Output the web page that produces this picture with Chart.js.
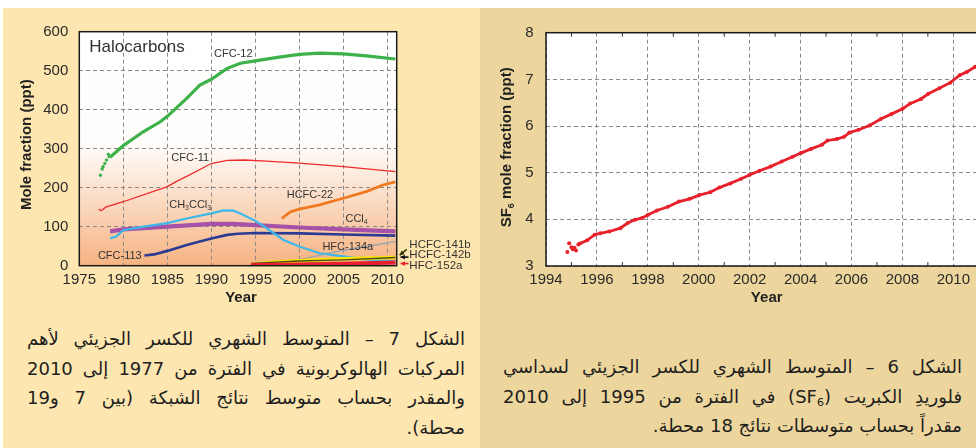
<!DOCTYPE html>
<html><head><meta charset="utf-8">
<script src="https://cdn.jsdelivr.net/npm/chart.js@4/dist/chart.umd.min.js"></script>
<style>
html,body{margin:0;padding:0;width:976px;height:448px;overflow:hidden;background:#fff;position:relative;}
#lp{position:absolute;left:3px;top:8px;width:477px;height:440px;background:#FDE6B0;}
#rp{position:absolute;left:480px;top:8px;width:496px;height:440px;background:#EDD69D;}
#c1{position:absolute;left:0;top:0;}
#c2{position:absolute;left:480px;top:0;}
.cap{position:absolute;direction:rtl;font-family:"DejaVu Sans",sans-serif;font-size:18px;line-height:29.5px;color:#1e1e1e;}
.cap div{text-align:justify;text-align-last:justify;height:29.5px;overflow:visible;white-space:nowrap;}
.cap div.last{text-align:right;text-align-last:right;}
.cap sub{font-size:11px;line-height:0;vertical-align:-3px;}
</style></head>
<body>
<div id="lp"></div><div id="rp"></div>
<canvas id="c1" width="480" height="310"></canvas>
<canvas id="c2" width="540" height="310"></canvas>
<div class="cap" style="left:27px;top:324px;width:438px;">
<div>الشكل 7 – المتوسط الشهري للكسر الجزيئي لأهم</div>
<div>المركبات الهالوكربونية في الفترة من 1977 إلى 2010</div>
<div>والمقدر بحساب متوسط نتائج الشبكة (بين 7 و19</div>
<div class="last">محطة).</div>
</div>
<div class="cap" style="left:503px;top:352px;width:459px;">
<div>الشكل 6 – المتوسط الشهري للكسر الجزيئي لسداسي</div>
<div>فلوريدِ الكبريت (SF<sub>6</sub>) في الفترة من 1995 إلى 2010</div>
<div class="last">مقدراً بحساب متوسطات نتائج 18 محطة.</div>
</div>
<script>
// ---------------- Halocarbons (left) ----------------
const hcXTicks = [1975,1980,1985,1990,1995,2000,2005,2010];
const hcYTicks = [0,100,200,300,400,500,600];

const cfc12EarlyYears  = [1977.4,1977.6,1977.7,1977.9,1978.1,1978.3,1978.4];
const cfc12EarlyValues = [232,248,254,262,271,286,280];
const cfc12Years  = [1978.5,1980,1982.3,1984.2,1985,1987.2,1988.7,1990,1991.8,1993.3,1995,1997.5,2000,2002.3,2005,2007.6,2010.9];
const cfc12Values = [278,308,344,369,383,429,463,478,506,519,525,534,542,545,543,538,530];

const cfc11Years  = [1977.2,1977.5,1978,1980,1985,1986.1,1987.2,1990,1991.8,1993.8,1996.2,2000,2005,2010.9];
const cfc11Values = [145,141,150,164,203,217,229,262,270,271,268,263,254,241];

const hcfc22Years  = [1998,1998.5,1999,2000,2002.3,2005,2007.6,2009.5,2010.9];
const hcfc22Values = [121,130,138,145,156,173,190,207,215];

const ccl4Years  = [1978.5,1980,1985,1990,1992.5,1995,2000,2005,2010.9];
const ccl4Values = [88,93,100,107,107,104,98,93,88];

const ch3ccl3Years  = [1978.5,1979.2,1980,1982.3,1985,1987.2,1990,1991.4,1992.5,1993.3,1995,1996.3,1998.2,2000,2002.3,2005,2007.6,2010.9];
const ch3ccl3Values = [70,75,91,100,109,121,134,142,141,134,115,96,66,49,32,24,16,11];

const cfc113Years  = [1982.4,1983.5,1985,1987.2,1990,1991.8,1993,1995,2000,2005,2010.9];
const cfc113Values = [26,29,38,53,70,79,82,84,83,80,77];

const hfc134aYears  = [1994.5,1997,2000,2002.3,2005,2007.6,2010.9];
const hfc134aValues = [1,6,15,27,40,49,62];

const hcfc141bYears  = [1994.5,1997,2000,2005,2010.9];
const hcfc141bValues = [3,9,13,18,21];

const hcfc142bYears  = [1994.5,2000,2005,2010.9];
const hcfc142bValues = [6,12,15,21];

const hfc152aYears  = [1994.5,2000,2005,2010.9];
const hfc152aValues = [1.5,3,5,8];

// ---------------- SF6 (right) ----------------
const sf6XTicks = [1994,1996,1998,2000,2002,2004,2006,2008,2010];
const sf6YTicks = [3,4,5,6,7,8];
const sf6EarlyYears  = [1994.84,1994.91,1995.0,1995.05,1995.12,1995.18,1995.27];
const sf6EarlyValues = [3.30,3.49,3.40,3.36,3.39,3.33,3.46];
const sf6Years  = [1995.33,1995.62,1995.91,1996.13,1996.49,1996.92,1997.21,1997.49,1997.78,1998.01,1998.36,1998.79,1999.22,1999.65,2000.02,2000.45,2000.81,2001.24,2001.67,2001.99,2002.39,2002.82,2003.26,2003.69,2004.01,2004.41,2004.84,2005.06,2005.42,2005.71,2005.92,2006.28,2006.71,2007.15,2007.58,2008.01,2008.30,2008.73,2009.02,2009.45,2009.88,2010.25,2010.53,2010.86];
const sf6Values = [3.48,3.55,3.67,3.70,3.74,3.81,3.92,3.99,4.03,4.10,4.19,4.27,4.38,4.44,4.52,4.58,4.68,4.77,4.87,4.95,5.04,5.13,5.24,5.34,5.42,5.51,5.60,5.69,5.72,5.77,5.86,5.92,6.01,6.15,6.26,6.37,6.48,6.58,6.69,6.81,6.93,7.09,7.16,7.27];

// ---------------- helpers ----------------
const FAM = '"Liberation Sans", Arial, sans-serif';
const pts = (xs, ys) => xs.map((x, i) => ({x, y: ys[i]}));
function drawRich(ctx, text, x, y, size, weight, align, color) {
  const parts = []; let cur = '';
  for (let i = 0; i < text.length; i++) {
    if (text[i] === '_') { if (cur) parts.push([cur, 0]); cur = ''; parts.push([text[i+1], 1]); i++; }
    else cur += text[i];
  }
  if (cur) parts.push([cur, 0]);
  const f0 = `${weight} ${size}px ${FAM}`, f1 = `${weight} ${Math.round(size*0.62)}px ${FAM}`;
  let w = 0;
  parts.forEach(p => { ctx.font = p[1] ? f1 : f0; p.w = ctx.measureText(p[0]).width; w += p.w; });
  let sx = align === 'center' ? x - w/2 : align === 'right' ? x - w : x;
  ctx.fillStyle = color; ctx.textBaseline = 'middle'; ctx.textAlign = 'left';
  parts.forEach(p => { ctx.font = p[1] ? f1 : f0; ctx.fillText(p[0], sx, p[1] ? y + size*0.32 : y); sx += p.w; });
}
function arrow(ctx, x1, y1, x2, y2, color) {
  ctx.save(); ctx.strokeStyle = color; ctx.fillStyle = color; ctx.lineWidth = 1.6;
  ctx.beginPath(); ctx.moveTo(x1, y1); ctx.lineTo(x2, y2); ctx.stroke();
  const a = Math.atan2(y2 - y1, x2 - x1), L = 5;
  ctx.beginPath(); ctx.moveTo(x2, y2);
  ctx.lineTo(x2 - L*Math.cos(a - 0.5), y2 - L*Math.sin(a - 0.5));
  ctx.lineTo(x2 - L*Math.cos(a + 0.5), y2 - L*Math.sin(a + 0.5));
  ctx.closePath(); ctx.fill(); ctx.restore();
}
const tickFont = {family: FAM, size: 15};
const gridCol = '#8a8a8a';

// ---------------- left chart ----------------
const hcLabels = [
  {t:'CFC-12',  x:1992.5, y:543},
  {t:'CFC-11',  x:1987.6, y:276},
  {t:'HCFC-22', x:2001.2, y:181},
  {t:'CCl_4',   x:2006.5, y:120},
  {t:'CH_3CCl_3', x:1987.6, y:156},
  {t:'HFC-134a', x:2005.5, y:48},
  {t:'CFC-113', x:1979.6, y:25}
];
const hcSideLabels = [
  {t:'HCFC-141b', x:2012.5, y:53},
  {t:'HCFC-142b', x:2012.5, y:27},
  {t:'HFC-152a',  x:2012.5, y:0}
];
const hcArrows = [
  {from:[2012.2,42], to:[2011.4,27], c:'#333300'},
  {from:[2012.4,22], to:[2011.5,22], c:'#111'},
  {from:[2012.4,5.5], to:[2011.5,5.5], c:'#E8202A'}
];

const hcPlugin = {
  id: 'hc',
  beforeDraw(chart) {
    const {ctx, chartArea: a, scales: {y}} = chart;
    const g = ctx.createLinearGradient(0, a.top, 0, a.bottom);
    const p300 = (y.getPixelForValue(310) - a.top) / (a.bottom - a.top);
    g.addColorStop(0, '#ffffff'); g.addColorStop(p300, '#fffdfb'); g.addColorStop(1, '#F6B381');
    ctx.save(); ctx.fillStyle = g; ctx.fillRect(a.left, a.top, a.right - a.left, a.bottom - a.top); ctx.restore();
  },
  afterDraw(chart) {
    const {ctx, chartArea: a, scales: {x, y}} = chart;
    ctx.save();
    ctx.strokeStyle = '#1a1a1a'; ctx.lineWidth = 1.5;
    ctx.strokeRect(a.left, a.top, a.right - a.left, a.bottom - a.top);
    drawRich(ctx, 'Halocarbons', a.left + 10, a.top + 16, 17, 'normal', 'left', '#333');
    hcLabels.forEach(l => drawRich(ctx, l.t, x.getPixelForValue(l.x), y.getPixelForValue(l.y), 11, 'normal', 'center', '#333'));
    hcSideLabels.forEach(l => drawRich(ctx, l.t, x.getPixelForValue(l.x), y.getPixelForValue(l.y), 11.5, 'normal', 'left', '#333'));
    hcArrows.forEach(r => arrow(ctx, x.getPixelForValue(r.from[0]), y.getPixelForValue(r.from[1]), x.getPixelForValue(r.to[0]), y.getPixelForValue(r.to[1]), r.c));
    drawRich(ctx, 'Year', (a.left + a.right)/2 + 3, 298, 15, 'bold', 'center', '#222');
    ctx.translate(a.left - 52, (a.top + a.bottom)/2 - 4); ctx.rotate(-Math.PI/2);
    drawRich(ctx, 'Mole fraction (ppt)', 0, 0, 15, 'bold', 'center', '#222');
    ctx.restore();
  }
};

const line = (label, xs, ys, color, w) => ({label, data: pts(xs, ys), showLine: true, borderColor: color, backgroundColor: color, borderWidth: w, pointRadius: 0, fill: false, tension: 0});

new Chart(document.getElementById('c1'), {
  type: 'scatter',
  data: {datasets: [
    line('HFC-152a', hfc152aYears, hfc152aValues, '#E8202A', 4),
    line('HCFC-142b', hcfc142bYears, hcfc142bValues, '#4a4a1a', 1.3),
    line('HCFC-141b', hcfc141bYears, hcfc141bValues, '#FFE600', 3.5),
    line('CH3CCl3', ch3ccl3Years, ch3ccl3Values, '#3DB8EA', 2.2),
    line('HFC-134a', hfc134aYears, hfc134aValues, '#A5A7AA', 1.6),
    line('CFC-113', cfc113Years, cfc113Values, '#2B3A92', 2.6),
    line('CCl4', ccl4Years, ccl4Values, '#A752A9', 4.2),
    line('HCFC-22', hcfc22Years, hcfc22Values, '#F07A22', 2.8),
    line('CFC-11', cfc11Years, cfc11Values, '#EE2A2E', 1.3),
    line('CFC-12', cfc12Years, cfc12Values, '#3DB24A', 3.2),
    {label:'CFC-12 early', data: pts(cfc12EarlyYears, cfc12EarlyValues), showLine:false, pointRadius:1.7, pointBorderWidth:0, backgroundColor:'#3DB24A'}
  ]},
  options: {
    responsive: false, animation: false, devicePixelRatio: 1,
    layout: {padding: {left: 0, top: 31.7, right: 83.3, bottom: 0}},
    plugins: {legend: {display: false}, tooltip: {enabled: false}},
    scales: {
      x: {type: 'linear', min: 1975, max: 2011.06,
          afterBuildTicks: s => { s.ticks = hcXTicks.map(v => ({value: v})); },
          afterFit: s => { s.height = 44.3; },
          ticks: {font: tickFont, color: '#2a2a2a', padding: 5, maxRotation: 0, callback: v => String(v)},
          grid: {color: gridCol, lineWidth: 1, drawTicks: false},
          border: {display: false, dash: [4, 3]}},
      y: {type: 'linear', min: 0, max: 600,
          afterBuildTicks: s => { s.ticks = hcYTicks.map(v => ({value: v})); },
          afterFit: s => { s.width = 79.3; },
          ticks: {font: tickFont, color: '#2a2a2a', padding: 11},
          grid: {color: gridCol, lineWidth: 1, drawTicks: false},
          border: {display: false, dash: [4, 3]}}
    }
  },
  plugins: [hcPlugin]
});

// ---------------- right chart ----------------
const sfPlugin = {
  id: 'sf',
  beforeDraw(chart) {
    const {ctx, chartArea: a} = chart;
    ctx.save(); ctx.fillStyle = '#fff'; ctx.fillRect(a.left, a.top, a.right - a.left, a.bottom - a.top); ctx.restore();
  },
  afterDraw(chart) {
    const {ctx, chartArea: a, scales: {x}} = chart;
    ctx.save();
    ctx.strokeStyle = '#1a1a1a'; ctx.lineWidth = 1.5;
    ctx.strokeRect(a.left, a.top, a.right - a.left, a.bottom - a.top);
    ctx.lineWidth = 1; ctx.strokeStyle = '#333';
    for (let i = 0; i < sf6XTicks.length; i++) {
      const px = x.getPixelForValue(sf6XTicks[i] + 1);
      if (px < a.right) {
        ctx.beginPath(); ctx.moveTo(px, a.top); ctx.lineTo(px, a.top + 4);
        ctx.moveTo(px, a.bottom); ctx.lineTo(px, a.bottom - 4); ctx.stroke();
      }
    }
    drawRich(ctx, 'Year', x.getPixelForValue(2002.67), 297.5, 15, 'bold', 'center', '#222');
    ctx.translate(a.left - 39.5, (a.top + a.bottom)/2 - 2); ctx.rotate(-Math.PI/2);
    drawRich(ctx, 'SF_6 mole fraction (ppt)', 0, 0, 15, 'bold', 'center', '#222');
    ctx.restore();
  }
};

new Chart(document.getElementById('c2'), {
  type: 'scatter',
  data: {datasets: [
    {label:'SF6', data: pts(sf6Years, sf6Values), showLine: true, borderColor:'#E8202A', borderWidth: 2.8, pointRadius: 2, pointBorderWidth: 0, backgroundColor:'#E8202A', tension: 0},
    {label:'SF6 early', data: pts(sf6EarlyYears, sf6EarlyValues), showLine: false, pointRadius: 2, pointBorderWidth: 0, backgroundColor:'#E8202A'}
  ]},
  options: {
    responsive: false, animation: false, devicePixelRatio: 1,
    layout: {padding: {left: 0, top: 32.7, right: 23.4, bottom: 0}},
    plugins: {legend: {display: false}, tooltip: {enabled: false}},
    scales: {
      x: {type: 'linear', min: 1994, max: 2011.7,
          afterBuildTicks: s => { s.ticks = sf6XTicks.map(v => ({value: v})); },
          afterFit: s => { s.height = 44; },
          ticks: {font: tickFont, color: '#2a2a2a', padding: 5, maxRotation: 0, callback: v => String(v)},
          grid: {color: gridCol, lineWidth: 1, drawTicks: false},
          border: {display: false, dash: [4, 3]}},
      y: {type: 'linear', min: 3, max: 8,
          afterBuildTicks: s => { s.ticks = sf6YTicks.map(v => ({value: v})); },
          afterFit: s => { s.width = 66; },
          ticks: {font: tickFont, color: '#2a2a2a', padding: 12.5},
          grid: {color: gridCol, lineWidth: 1, drawTicks: false},
          border: {display: false, dash: [4, 3]}}
    }
  },
  plugins: [sfPlugin]
});
</script>
</body></html>
